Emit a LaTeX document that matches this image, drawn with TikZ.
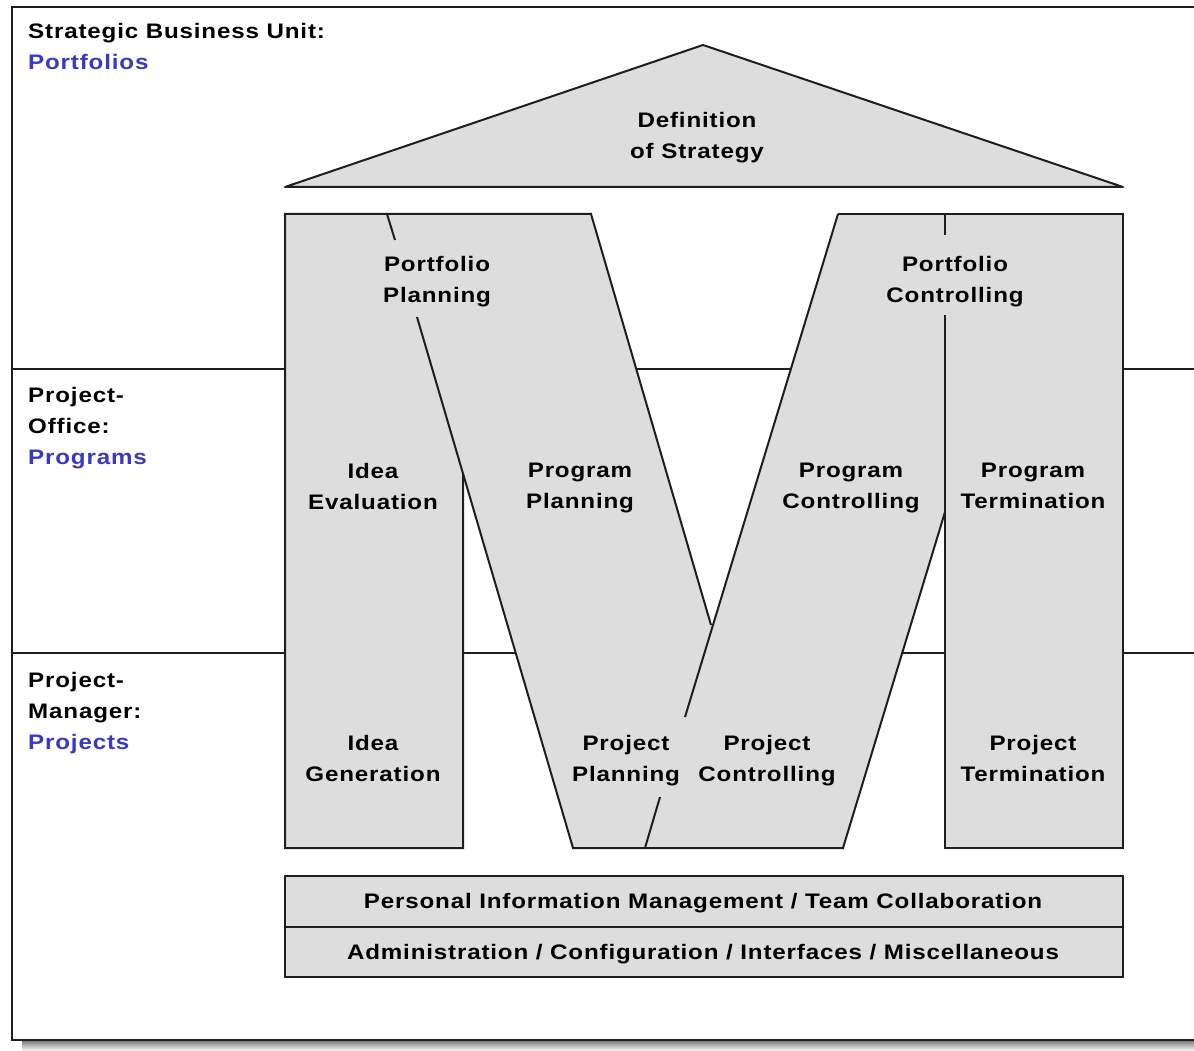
\documentclass[tikz,border=0pt]{standalone}
\usepackage{fontspec}
\setmainfont{Liberation Sans}[FakeStretch=1.15, LetterSpace=4]
\definecolor{panel}{RGB}{221,221,221}
\definecolor{edge}{RGB}{30,30,30}
\definecolor{lblue}{RGB}{58,58,190}
\definecolor{shade}{RGB}{120,120,120}
\tikzset{
  outline/.style={draw=edge, line width=2pt},
  lab/.style={font=\bfseries\fontsize{21}{31}\selectfont, align=center, inner sep=0pt, anchor=north, text=black},
  side/.style={lab, align=left, anchor=north west},
  bar/.style={font=\bfseries\fontsize{21}{31}\selectfont, inner sep=0pt, anchor=base, text=black},
}
\begin{document}
\begin{tikzpicture}[x=1pt,y=-1pt]
\fill[white] (0,0) rectangle (1194,1051);
\useasboundingbox (0,0) rectangle (1194,1051);
% shadow and frame
\fill[shade] (22,1041) rectangle (1194,1051);
\draw[line width=2.2pt, draw=edge] (1200,7) -- (12,7) -- (12,1040) -- (1200,1040);
% lane separators
\draw[outline] (12,369) -- (1194,369);
\draw[outline] (12,653) -- (1194,653);
% roof
\filldraw[fill=panel, outline, line join=round] (285,187) -- (703,45) -- (1123,187) -- cycle;
% M body fill
\fill[panel] (285,214) rectangle (463,848);
\fill[panel] (387,214) -- (591,214) -- (777,848) -- (573,848) -- cycle;
\fill[panel] (838,214) -- (1036,214) -- (843,848) -- (645,848) -- cycle;
\fill[panel] (945,214) rectangle (1123,848);
% M outlines
\draw[outline] (463,473) -- (463,848) -- (285,848) -- (285,214) -- (591,214) -- (711,625);
\draw[outline] (387,214) -- (395,240);
\draw[outline] (417,317) -- (573,848) -- (843,848) -- (945,512);
\draw[outline] (838,214) -- (685,717);
\draw[outline] (660,797) -- (645,848);
\draw[outline] (838,214) -- (1123,214) -- (1123,848) -- (945,848) -- (945,315);
\draw[outline] (945,214) -- (945,235);
% bottom bars
\filldraw[fill=panel, outline] (285,876) rectangle (1123,977);
\draw[outline] (285,927) -- (1123,927);
% side labels
\node[side] (sbu) at (28,23) {Strategic Business Unit:\\\textcolor{lblue}{Portfolios}};
\node[side] (po) at (28,387) {Project-\\Office:\\\textcolor{lblue}{Programs}};
\node[side] (pm) at (28,672) {Project-\\Manager:\\\textcolor{lblue}{Projects}};
% labels
\node[lab] (strat) at (697,112) {Definition\\of Strategy};
\node[lab] (pfp) at (437,256) {Portfolio\\Planning};
\node[lab] (pfc) at (955,256) {Portfolio\\Controlling};
\node[lab] (ideaev) at (373,463) {Idea\\Evaluation};
\node[lab] (prgp) at (580,463) {Program\\Planning};
\node[lab] (prgc) at (851,463) {Program\\Controlling};
\node[lab] (prgt) at (1033,463) {Program\\Termination};
\node[lab] (ideagen) at (373,735) {Idea\\Generation};
\node[lab] (prjp) at (626,735) {Project\\Planning};
\node[lab] (prjc) at (767,735) {Project\\Controlling};
\node[lab] (prjt) at (1033,735) {Project\\Termination};
\node[bar] (pim) at (703,908) {Personal Information Management / Team Collaboration};
\node[bar] (adm) at (703,959) {Administration / Configuration / Interfaces / Miscellaneous};
\end{tikzpicture}
\end{document}
